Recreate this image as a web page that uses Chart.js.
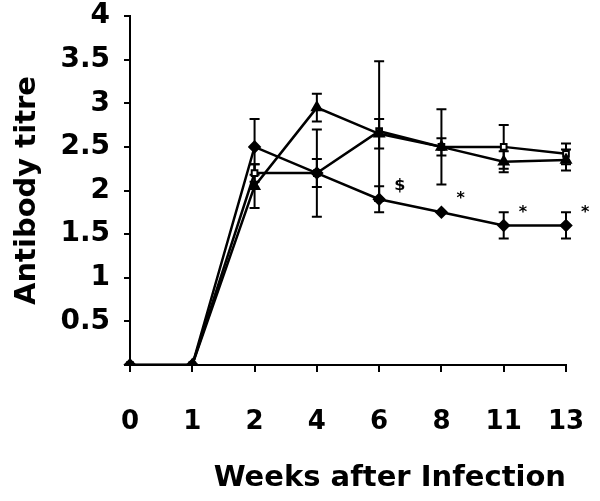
<!DOCTYPE html>
<html>
<head>
<meta charset="utf-8">
<script src="https://cdn.jsdelivr.net/npm/chart.js@4/dist/chart.umd.min.js"></script>
<style>
  html, body { margin: 0; padding: 0; background: #fff; }
</style>
</head>
<body>
<canvas id="chart" width="600" height="501"></canvas>
<script>
// weeks after infection (category axis)
const weeks = ['0', '1', '2', '4', '6', '8', '11', '13'];

// mean antibody titres, three groups
const groupA = [0, 0, 2.5, 2.2, 1.9, 1.75, 1.6, 1.6];
const groupB = [0, 0, 2.05, 2.95, 2.65, 2.5, 2.33, 2.35];
const groupC = [0, 0, 2.2, 2.2, 2.68, 2.5, 2.5, 2.42];

// error bar half-widths
const errA = [0, 0, 0.32, 0.16, 0.15, 0, 0.15, 0.15];
const errB = [0, 0, 0.25, 0.16, 0.17, 0.1, 0.12, 0.12];
const errC = [0, 0, 0.1, 0.5, 0.8, 0.43, 0.25, 0.12];

// significance marks next to group A
const marksA = ['', '', '', '', '$', '*', '*', '*'];

const FONT = "'DejaVu Sans', sans-serif";

// draws vertical error bars with caps, then the marks
const errorBars = {
    id: 'errorBars',
    beforeDatasetsDraw(chart) {
        const ctx = chart.ctx;
        const yScale = chart.scales.y;
        ctx.save();
        ctx.strokeStyle = '#000';
        ctx.lineWidth = 2;
        chart.data.datasets.forEach((ds, i) => {
            const meta = chart.getDatasetMeta(i);
            meta.data.forEach((pt, j) => {
                const e = ds.errors[j];
                if (!e) return;
                const v = ds.data[j];
                const top = yScale.getPixelForValue(v + e);
                const bot = yScale.getPixelForValue(v - e);
                ctx.beginPath();
                ctx.moveTo(pt.x, top);
                ctx.lineTo(pt.x, bot);
                ctx.moveTo(pt.x - 5, top);
                ctx.lineTo(pt.x + 5, top);
                ctx.moveTo(pt.x - 5, bot);
                ctx.lineTo(pt.x + 5, bot);
                ctx.stroke();
            });
        });
        ctx.restore();
    },
    afterDatasetsDraw(chart) {
        const ctx = chart.ctx;
        const meta = chart.getDatasetMeta(0);
        ctx.save();
        ctx.fillStyle = '#000';
        ctx.font = 'bold 16px ' + FONT;
        ctx.textAlign = 'left';
        ctx.textBaseline = 'middle';
        meta.data.forEach((pt, j) => {
            const m = marksA[j];
            if (!m) return;
            ctx.fillText(m, pt.x + 15, pt.y - 13);
        });
        ctx.restore();
    }
};

new Chart(document.getElementById('chart'), {
    type: 'line',
    data: {
        labels: weeks,
        datasets: [
            {
                label: 'A',
                data: groupA,
                errors: errA,
                borderColor: '#000',
                backgroundColor: '#000',
                borderWidth: 2.5,
                pointStyle: 'rectRot',
                pointRadius: 5,
                tension: 0
            },
            {
                label: 'B',
                data: groupB,
                errors: errB,
                borderColor: '#000',
                backgroundColor: '#000',
                borderWidth: 2.5,
                pointStyle: 'triangle',
                pointRadius: 5,
                tension: 0
            },
            {
                label: 'C',
                data: groupC,
                errors: errC,
                borderColor: '#000',
                backgroundColor: '#fff',
                borderWidth: 2.5,
                pointBorderWidth: 2,
                pointStyle: 'rect',
                pointRadius: 4,
                tension: 0
            }
        ]
    },
    options: {
        responsive: false,
        animation: false,
        layout: {
            padding: { left: 0, right: 34, top: 16, bottom: 0 }
        },
        plugins: {
            legend: { display: false },
            tooltip: { enabled: false }
        },
        scales: {
            x: {
                type: 'category',
                offset: false,
                border: { color: '#000', width: 2 },
                grid: {
                    drawOnChartArea: false,
                    color: '#000',
                    lineWidth: 2,
                    tickLength: 7
                },
                ticks: {
                    color: '#000',
                    autoSkip: false,
                    maxRotation: 0,
                    padding: 35,
                    font: { family: FONT, size: 26, weight: 'bold' }
                },
                title: {
                    display: true,
                    text: 'Weeks after Infection',
                    align: 'end',
                    color: '#000',
                    padding: { top: 0, bottom: 5 },
                    font: { family: FONT, size: 29, weight: 'bold' }
                },
                afterFit(scale) {
                    scale.height = 136;
                    scale.paddingLeft = 0;
                    scale.paddingRight = 0;
                }
            },
            y: {
                min: 0,
                max: 4,
                border: { color: '#000', width: 2 },
                grid: {
                    drawOnChartArea: false,
                    color: '#000',
                    lineWidth: 2,
                    tickLength: 6
                },
                ticks: {
                    stepSize: 0.5,
                    color: '#000',
                    padding: 14,
                    font: { family: FONT, size: 28, weight: 'bold' },
                    callback: v => (v === 0 ? '' : v)
                },
                title: {
                    display: true,
                    text: 'Antibody titre',
                    color: '#000',
                    padding: { top: 10, bottom: 0 },
                    font: { family: FONT, size: 29, weight: 'bold' }
                },
                afterFit(scale) {
                    scale.width = 130;
                    scale.paddingTop = 0;
                    scale.paddingBottom = 0;
                }
            }
        }
    },
    plugins: [errorBars]
});
</script>
</body>
</html>
